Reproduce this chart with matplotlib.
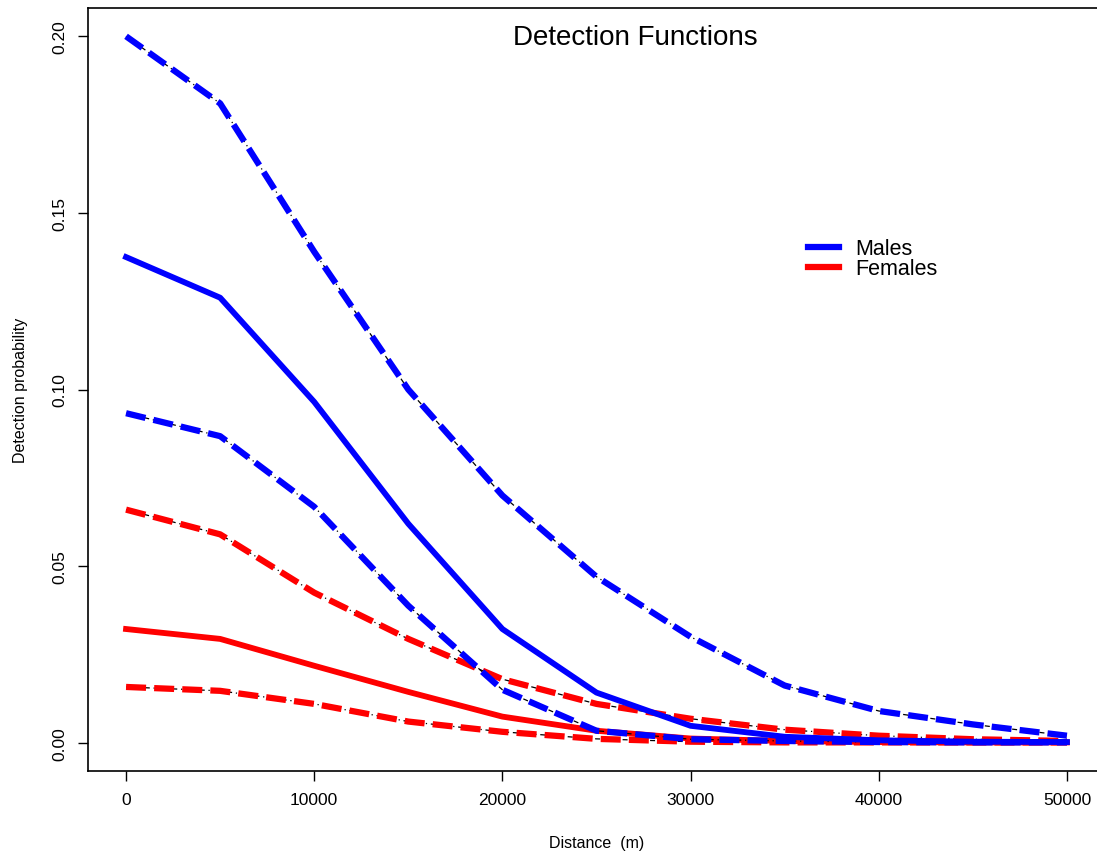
import numpy as np
import matplotlib.pyplot as plt

plt.rcParams['font.family'] = ['Liberation Sans', 'DejaVu Sans']

# distances (m)
dist = [0, 5000, 10000, 15000, 20000, 25000, 30000, 35000, 40000, 45000, 50000]

# males: mean and bounds
male_mean = [0.1375, 0.126, 0.0965, 0.062, 0.0322, 0.0142, 0.0048, 0.0017, 0.0007, 0.0003, 0.0002]
male_upper = [0.200, 0.181, 0.139, 0.100, 0.070, 0.047, 0.030, 0.0162, 0.009, 0.0052, 0.002]
male_lower = [0.0933, 0.0868, 0.0668, 0.0388, 0.015, 0.0034, 0.001, 0.0005, 0.0002, 0.0001, 0.0001]

# females
fem_mean = [0.0322, 0.0294, 0.0218, 0.0144, 0.0074, 0.0034, 0.0012, 0.0005, 0.0002, 0.0001, 0.0001]
fem_upper = [0.066, 0.059, 0.0425, 0.0294, 0.018, 0.011, 0.0068, 0.0037, 0.002, 0.001, 0.0005]
fem_lower = [0.0158, 0.0147, 0.011, 0.006, 0.0031, 0.0011, 0.0003, 0.0001, 0.0001, 0.0001, 0.0001]

fig = plt.figure(figsize=(10.97, 8.54), dpi=100)
ax = fig.add_axes([0.0806, 0.096, 0.9263, 0.8934])

d = np.array(dist)

def band(y, col):
    # thin black dot-dash underneath, thick coloured dashes on top
    ax.plot(d, y, color='black', lw=0.9, dashes=(1, 3, 4, 3))
    ax.plot(d, y, color=col, lw=4.5, dashes=(3.2, 1.3), dash_capstyle='butt')

# females first, males on top
band(fem_upper, 'red')
band(fem_lower, 'red')
ax.plot(d, fem_mean, color='red', lw=4.2)
band(male_upper, 'blue')
band(male_lower, 'blue')
ax.plot(d, male_mean, color='blue', lw=4.2)

ax.set_xlim(-2000, 52000)
ax.set_ylim(-0.008, 0.208)
ax.set_xticks([0, 10000, 20000, 30000, 40000, 50000])
ax.set_yticks([0.0, 0.05, 0.10, 0.15, 0.20])
ax.set_yticklabels(['0.00', '0.05', '0.10', '0.15', '0.20'], rotation=90, va='center')
ax.tick_params(direction='out', length=7, width=1, labelsize=12.5, pad=8)
for s in ax.spines.values():
    s.set_linewidth(1.2)

ax.set_xlabel('Distance  (m)', fontsize=11.5, labelpad=20)
ax.set_ylabel('Detection probability', fontsize=11.5, labelpad=18)
ax.text(0.579, 0.9555, 'Detection Functions', transform=fig.transFigure,
        ha='center', va='center', fontsize=20)

h1, = ax.plot([], [], color='blue', lw=4.5)
h2, = ax.plot([], [], color='red', lw=4.5)
ax.legend([h1, h2], ['Males', 'Females'], loc='center left',
          bbox_to_anchor=(0.727, 0.6956), bbox_transform=fig.transFigure,
          frameon=False, fontsize=15.5, borderpad=0, handlelength=1.45,
          handletextpad=0.75, labelspacing=-0.05)

fig.savefig('out.png', dpi=100)
